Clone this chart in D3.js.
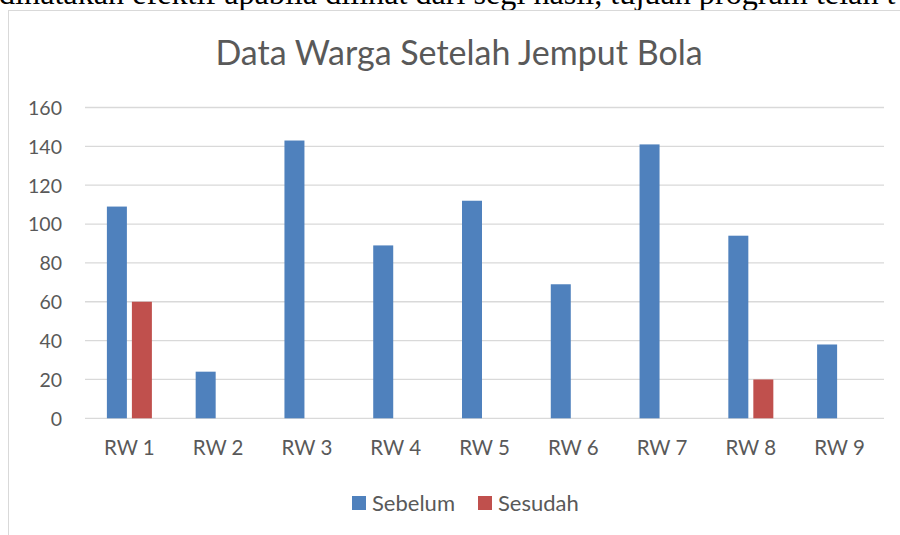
<!DOCTYPE html>
<html><head><meta charset="utf-8">
<script src="https://cdn.jsdelivr.net/npm/d3@7"></script>
<style>html,body{margin:0;padding:0;background:#fff;overflow:hidden}</style>
</head><body>
<svg id="c" width="900" height="535"></svg>
<script>
const categories = ["RW 1","RW 2","RW 3","RW 4","RW 5","RW 6","RW 7","RW 8","RW 9"];
const seriesNames = ["Sebelum","Sesudah"];
const sebelum = [109, 24, 143, 89, 112, 69, 141, 94, 38];
const sesudah = [60, 0, 0, 0, 0, 0, 0, 20, 0];
const yTicks = [0,20,40,60,80,100,120,140,160];
const colors = ["#4F81BD","#C0504D"];
const titleText = "Data Warga Setelah Jemput Bola";
const topText = "dinatakan efektif apabila dilihat dari segi hasil, tujuan program telah t";

const font = "Lato, 'Open Sans', sans-serif";
const svg = d3.select("#c");

// page text above the chart (clipped by the frame)
svg.append("text").attr("x", -1).attr("y", 4)
  .attr("font-family", "'Liberation Serif','DejaVu Serif',serif").attr("font-size", 32.2)
  .attr("fill", "#000").text(topText);

// chart frame
svg.append("rect").attr("x", 8.5).attr("y", 10.5).attr("width", 1000).attr("height", 600)
  .attr("fill", "#fff").attr("stroke", "#d9d9d9").attr("stroke-width", 1);

svg.append("text").attr("x", 459).attr("y", 65).attr("text-anchor", "middle")
  .attr("font-family", font).attr("font-size", 34).attr("fill", "#595959").text(titleText);

const x0 = d3.scaleBand().domain(categories).range([85, 884]).padding(0);
const x1 = d3.scaleBand().domain(seriesNames).range([0, 45]).paddingInner(0.2);
const y = d3.scaleLinear().domain([0,160]).range([418.3, 107.5]);

const grid = svg.append("g");
grid.selectAll("line").data(yTicks).join("line")
  .attr("x1", 85).attr("x2", 884)
  .attr("y1", d => y(d)).attr("y2", d => y(d))
  .attr("stroke", "#d9d9d9").attr("stroke-width", 1.3);

const yAxis = d3.axisLeft(y).tickValues(yTicks).tickSize(0).tickPadding(0);
const ga = svg.append("g").attr("transform", "translate(62,0)").call(yAxis);
ga.select(".domain").remove();
ga.selectAll("text").attr("font-family", font).attr("font-size", 19.5).attr("fill", "#595959").attr("dy", "0.35em");

const xAxis = d3.axisBottom(x0).tickSize(0).tickPadding(0);
const gx = svg.append("g").attr("transform", "translate(0,440.5)").call(xAxis);
gx.select(".domain").remove();
gx.selectAll("text").attr("font-family", font).attr("font-size", 20.5).attr("fill", "#595959").attr("dy", "0.71em");

const data = [sebelum, sesudah];
const groups = svg.append("g").selectAll("g").data(categories).join("g")
  .attr("transform", d => `translate(${x0(d) + x0.bandwidth()/2 - 22.5},0)`);
groups.selectAll("rect").data((d,i) => seriesNames.map((s,j) => ({s, j, v: data[j][i]})))
  .join("rect")
  .filter(d => d.v > 0)
  .attr("x", d => x1(d.s)).attr("width", x1.bandwidth())
  .attr("y", d => y(d.v)).attr("height", d => y(0) - y(d.v))
  .attr("fill", d => colors[d.j]);

// legend
const legendX = [352, 478];
const lg = svg.append("g").selectAll("g").data(seriesNames).join("g")
  .attr("transform", (d,i) => `translate(${legendX[i]},496)`);
lg.append("rect").attr("width", 14).attr("height", 14).attr("fill", (d,i) => colors[i]);
lg.append("text").attr("x", 20).attr("y", 14.5).attr("font-family", font).attr("font-size", 22)
  .attr("fill", "#595959").text(d => d);
</script>
</body></html>
